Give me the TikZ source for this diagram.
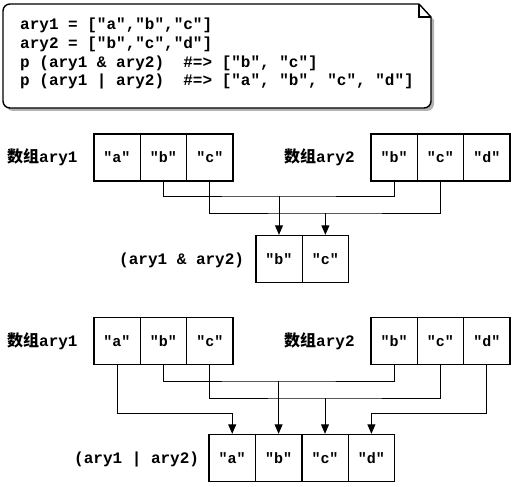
\documentclass[tikz,border=0pt]{standalone}
\usepackage{fontspec}
\newfontfamily\codefont{Liberation Mono}
\newfontfamily\cjk{Noto Sans CJK SC}
\usetikzlibrary{arrows.meta}
\begin{document}
\begin{tikzpicture}[x=1pt,y=-1pt,
  cell/.style={draw,line width=1.4pt,minimum width=46.4pt,minimum height=47pt,inner sep=0pt,
    font=\codefont\bfseries\fontsize{15}{17}\selectfont},
  lbl/.style={anchor=base west,inner sep=0pt,font=\codefont\bfseries\fontsize{16}{19}\selectfont},
  codeline/.style={anchor=base west,inner sep=0pt,font=\codefont\bfseries\fontsize{16}{19}\selectfont},
  conn/.style={line width=0.9pt},
  arr/.style={line width=0.9pt,-{Triangle[width=8pt,length=9.5pt]}}]
\useasboundingbox (0,0) rectangle (512,487);
% note box
\fill[black!30] (6,7) -- (422,7) -- (434,20) [rounded corners=7pt] -- (434,111) -- (6,111) -- (6,7);
\draw[line width=1.4pt,fill=white] (419,4) -- (431,17) [rounded corners=7pt] -- (431,108) -- (3,108) -- (3,4) [sharp corners] -- (419,4);
\draw[line width=1.4pt] (419,4) -- (419,17) -- (431,17);
\node[codeline] (l1) at (20,30) {ary1 = ["a","b","c"]};
\node[codeline] (l2) at (20,49) {ary2 = ["b","c","d"]};
\node[codeline] (l3) at (20,67.5) {p (ary1 \& ary2)~~\#=> ["b", "c"]};
\node[codeline] (l4) at (20,86) {p (ary1 | ary2)~~\#=> ["a", "b", "c", "d"]};
% section 1
\node[lbl] (n1) at (7,162) {{\cjk 数组}ary1};
\node[cell] (p1a) at (117,157.5) {"a"};
\node[cell] (p1b) at (163.4,157.5) {"b"};
\node[cell] (p1c) at (209.8,157.5) {"c"};
\node[lbl] (n2) at (284,162) {{\cjk 数组}ary2};
\node[cell] (q1b) at (394,157.5) {"b"};
\node[cell] (q1c) at (440.4,157.5) {"c"};
\node[cell] (q1d) at (486.8,157.5) {"d"};
\node[lbl] (n3) at (119,264) {(ary1 \& ary2)};
\node[cell] (r1b) at (279,259) {"b"};
\node[cell] (r1c) at (325.4,259) {"c"};
\coordinate (j1b) at (279,196);
\coordinate (j1c) at (325.4,213);
\draw[conn] (p1b.south) |- (j1b) -| (q1b.south);
\draw[conn] (p1c.south) |- (j1c) -| (q1c.south);
\draw[arr] (j1b) -- (r1b.north);
\draw[arr] (j1c) -- (r1c.north);
% section 2
\node[lbl] (m1) at (7,346) {{\cjk 数组}ary1};
\node[cell] (p2a) at (117,341) {"a"};
\node[cell] (p2b) at (163.4,341) {"b"};
\node[cell] (p2c) at (209.8,341) {"c"};
\node[lbl] (m2) at (284,346) {{\cjk 数组}ary2};
\node[cell] (q2b) at (394,341) {"b"};
\node[cell] (q2c) at (440.4,341) {"c"};
\node[cell] (q2d) at (486.8,341) {"d"};
\node[lbl] (m3) at (74,463) {(ary1 | ary2)};
\node[cell] (r2a) at (232.2,458) {"a"};
\node[cell] (r2b) at (278.6,458) {"b"};
\node[cell] (r2c) at (325,458) {"c"};
\node[cell] (r2d) at (371.4,458) {"d"};
\coordinate (j2a) at (232.2,413);
\coordinate (j2b) at (278.6,381);
\coordinate (j2c) at (325,398);
\coordinate (j2d) at (371.4,413);
\draw[conn] (p2a.south) |- (j2a);
\draw[conn] (p2b.south) |- (j2b) -| (q2b.south);
\draw[conn] (p2c.south) |- (j2c) -| (q2c.south);
\draw[conn] (q2d.south) |- (j2d);
\draw[arr] (j2a) -- (r2a.north);
\draw[arr] (j2b) -- (r2b.north);
\draw[arr] (j2c) -- (r2c.north);
\draw[arr] (j2d) -- (r2d.north);
\end{tikzpicture}
\end{document}
